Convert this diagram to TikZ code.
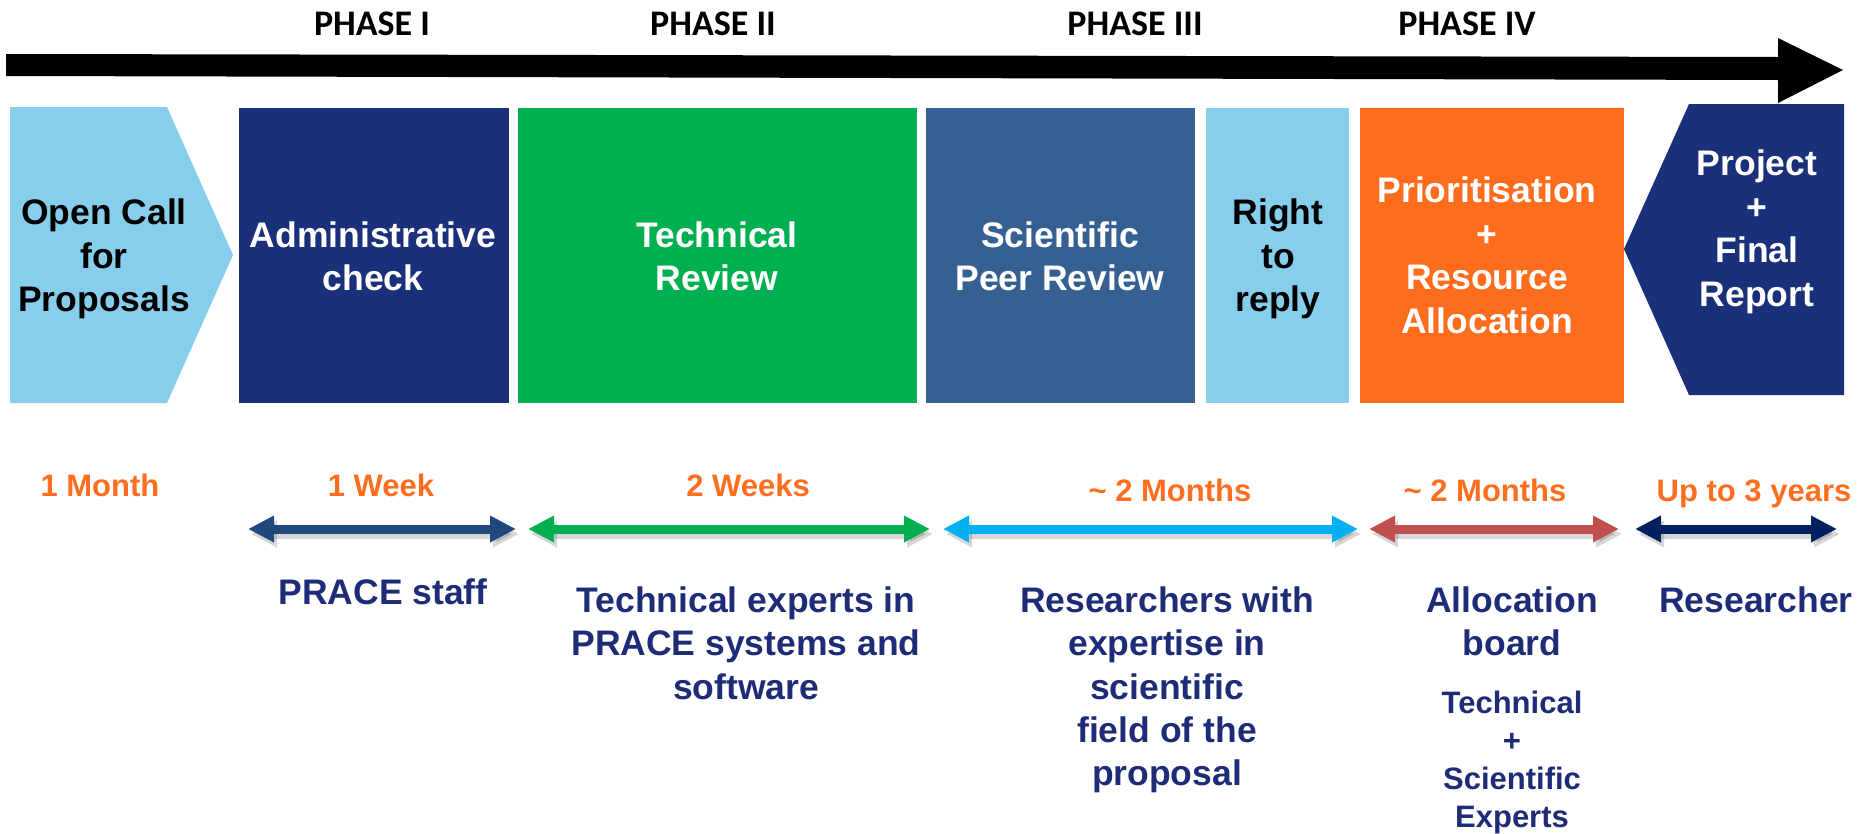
\documentclass[tikz,border=0pt]{standalone}
\usepackage{fontspec}
\setmainfont{Liberation Sans}
\newfontfamily\phasefont{Carlito}
\usetikzlibrary{arrows.meta}
\definecolor{skyb}{RGB}{135,206,236}
\definecolor{navybox}{RGB}{27,48,122}
\definecolor{greenbox}{RGB}{0,175,80}
\definecolor{steelbox}{RGB}{54,96,146}
\definecolor{orangebox}{RGB}{254,108,29}
\definecolor{txtnavy}{RGB}{30,44,120}
\definecolor{txtorange}{RGB}{254,110,30}
\definecolor{arA}{RGB}{31,73,125}
\definecolor{arB}{RGB}{0,176,80}
\definecolor{arC}{RGB}{0,176,240}
\definecolor{arD}{RGB}{192,80,77}
\definecolor{arE}{RGB}{0,32,96}
\begin{document}
\begin{tikzpicture}[x=1pt,y=-1pt,
  phase/.style={font=\phasefont\bfseries\fontsize{36}{40}\selectfont, inner sep=0pt, anchor=base},
  boxtxt/.style={font=\bfseries\fontsize{35.5}{43.5}\selectfont, align=center, inner sep=0pt, anchor=north},
  durtxt/.style={font=\bfseries\fontsize{31}{38}\selectfont, text=txtorange, inner sep=0pt, anchor=base},
  whotxt/.style={font=\bfseries\fontsize{35.5}{43.3}\selectfont, text=txtnavy, align=center, inner sep=0pt, anchor=north},
  smalltxt/.style={font=\bfseries\fontsize{31}{38}\selectfont, text=txtnavy, align=center, inner sep=0pt, anchor=north},
  span/.style={line width=9pt, {Triangle[length=26pt,width=25pt]}-{Triangle[length=26pt,width=25pt]}},
  spanshadow/.style={span, draw=black, opacity=0.16, transform canvas={shift={(3pt,-5pt)}}}
]
\useasboundingbox (0,0) rectangle (1860,833);

% timeline arrow
\coordinate (tl0) at (6,65);
\coordinate (tl1) at (1843,70);
\fill[black] (6,54) -- (1778,57) -- (1778,38) -- (tl1) -- (1778,103) -- (1778,80) -- (6,76) -- cycle;

% phase labels
\node[phase] (p1) at (372,35) {PHASE I};
\node[phase] (p2) at (713,35) {PHASE II};
\node[phase] (p3) at (1135,35) {PHASE III};
\node[phase] (p4) at (1467,35) {PHASE IV};

% boxes
\fill[skyb] (10,107) -- (167,107) -- (233,255) -- (167,403) -- (10,403) -- cycle;
\fill[navybox] (239,108) rectangle (509,403);
\fill[greenbox] (518,108) rectangle (917,403);
\fill[steelbox] (926,108) rectangle (1195,403);
\fill[skyb] (1206,108) rectangle (1349,403);
\fill[orangebox] (1360,108) rectangle (1624,403);
\fill[navybox] (1624,249) -- (1689,104) -- (1844,104) -- (1844,395) -- (1689,395) -- cycle;

% box texts
\node[boxtxt, text=black] (open) at (104,199) {Open Call\\for\\Proposals};
\node[boxtxt, text=white] (admin) at (373,221.5) {Administrative\\check};
\node[boxtxt, text=white] (tech) at (717,221.5) {Technical\\Review};
\node[boxtxt, text=white] (sci) at (1060,221.5) {Scientific\\Peer Review};
\node[boxtxt, text=black] (reply) at (1278,199) {Right\\to\\reply};
\node[boxtxt, text=white] (prio) at (1487,177) {Prioritisation\\+\\Resource\\Allocation};
\node[boxtxt, text=white] (proj) at (1757,150) {Project\\+\\Final\\Report};

% durations
\node[durtxt] (d1) at (100,496) {1 Month};
\node[durtxt] (d2) at (381,496) {1 Week};
\node[durtxt] (d3) at (748,496) {2 Weeks};
\node[durtxt] (d4) at (1170,501) {\textasciitilde\ 2 Months};
\node[durtxt] (d5) at (1485,501) {\textasciitilde\ 2 Months};
\node[durtxt] (d6) at (1754,501) {Up to 3 years};

% span arrows
\coordinate (s1a) at (248,529); \coordinate (s1b) at (516,529);
\coordinate (s2a) at (528,529); \coordinate (s2b) at (930,529);
\coordinate (s3a) at (943,529); \coordinate (s3b) at (1358,529);
\coordinate (s4a) at (1369,529); \coordinate (s4b) at (1619,529);
\coordinate (s5a) at (1635,529); \coordinate (s5b) at (1837,529);
\foreach \a/\b in {s1a/s1b,s2a/s2b,s3a/s3b,s4a/s4b,s5a/s5b}
  \draw[spanshadow] (\a) -- (\b);
\draw[span, draw=arA] (s1a) -- (s1b);
\draw[span, draw=arB] (s2a) -- (s2b);
\draw[span, draw=arC] (s3a) -- (s3b);
\draw[span, draw=arD] (s4a) -- (s4b);
\draw[span, draw=arE] (s5a) -- (s5b);

% who
\node[whotxt, anchor=base] (w1) at (383,604) {PRACE staff};
\node[whotxt] (w2) at (746,586.5) {Technical experts in\\PRACE systems and\\software};
\node[whotxt] (w3) at (1167,586.5) {Researchers with\\expertise in\\scientific\\field of the\\proposal};
\node[whotxt] (w4) at (1512,586.5) {Allocation\\board};
\node[whotxt, anchor=base] (w5) at (1756,612) {Researcher};
\node[smalltxt] (w6) at (1512,690.5) {Technical\\+\\Scientific\\Experts};
\end{tikzpicture}
\end{document}
